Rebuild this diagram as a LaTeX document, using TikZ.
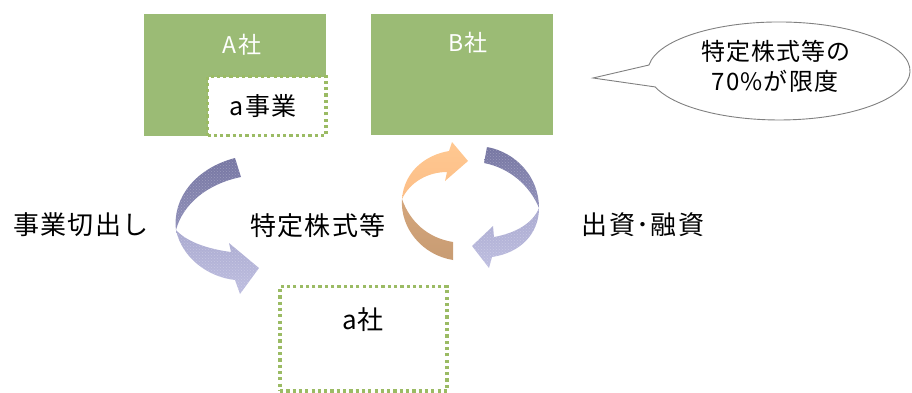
\documentclass[tikz,border=0pt]{standalone}
\usepackage{fontspec}
\usetikzlibrary{patterns}
\setmainfont[LetterSpace=5]{Noto Sans CJK JP}
\definecolor{boxgreen}{RGB}{155,187,117}
\definecolor{dotgreen}{RGB}{155,187,100}
\definecolor{bluedark}{RGB}{118,118,162}
\definecolor{bluemid}{RGB}{145,145,186}
\definecolor{bluelightA}{RGB}{170,170,208}
\definecolor{bluelightB}{RGB}{190,190,224}
\definecolor{orangelight}{RGB}{255,200,145}
\definecolor{orangemid}{RGB}{252,190,135}
\definecolor{tanA}{RGB}{212,166,124}
\definecolor{tanB}{RGB}{200,156,115}
\begin{document}
\begin{tikzpicture}[x=1pt,y=-1pt,
  greenbox/.style={fill=boxgreen, draw=none, inner sep=0pt},
  dotbox/.style={draw=dotgreen, line width=3.2pt, dash pattern=on 3.2pt off 3.1pt, fill=white, inner sep=0pt},
  lbl/.style={font=\fontsize{26}{30}\selectfont, text=black, inner sep=0pt},
  headlbl/.style={font=\fontsize{23}{26}\selectfont, text=white, inner sep=0pt},
  bubtxt/.style={font=\fontsize{24}{28}\selectfont, text=black, inner sep=0pt},
  texture/.style={pattern=crosshatch dots, pattern color=white, fill opacity=0.25}
]
\useasboundingbox (0,0) rectangle (912,392);
% boxes
\node[greenbox, minimum width=182pt, minimum height=122pt] (A) at (235,75) {};
\node[greenbox, minimum width=182pt, minimum height=121pt] (B) at (462,74.5) {};
\node[dotbox, minimum width=118.5pt, minimum height=59pt] (aj) at (266.75,106) {};
\node[dotbox, minimum width=167pt, minimum height=104.5pt] (ac) at (363.5,338.75) {};
% box labels
\node[headlbl] (Al) at (242,45) {A社};
\node[headlbl] (Bl) at (468,43) {B社};
\node[font=\fontsize{25}{28}\selectfont, inner sep=0pt] (ajl) at (263,106) {a事業};
\node[lbl] (acl) at (363,320) {a社};
% side labels
\node[lbl] (l1) at (81,225) {事業切出し};
\node[lbl] (l2) at (318,226) {特定株式等};
\node[lbl] (l3) at (643,225) {出資･融資};
% left curved arrow
\path[shade, top color=bluedark, bottom color=bluemid]
  (235,158) .. controls (196,168) and (172,198) .. (176,230)
  .. controls (183,204) and (207,184) .. (241,177) -- cycle;
\path[texture]
  (235,158) .. controls (196,168) and (172,198) .. (176,230)
  .. controls (183,204) and (207,184) .. (241,177) -- cycle;
\path[shade, top color=bluelightA, bottom color=bluelightB]
  (176,230) .. controls (182,258) and (208,277) .. (235,280)
  -- (240,294) -- (259,268) -- (229,243) -- (231,252)
  .. controls (208,249) and (187,242) .. (176,230) -- cycle;
\path[texture]
  (176,230) .. controls (182,258) and (208,277) .. (235,280)
  -- (240,294) -- (259,268) -- (229,243) -- (231,252)
  .. controls (208,249) and (187,242) .. (176,230) -- cycle;
% orange arrow
\path[shade, top color=orangelight, bottom color=orangemid]
  (402,199) .. controls (404,172) and (425,155) .. (449,151)
  -- (452,142) -- (468,161) -- (445,181) -- (447,172)
  .. controls (428,172) and (410,182) .. (402,199) -- cycle;
\path[shade, top color=tanA, bottom color=tanB]
  (402,199) .. controls (400,228) and (422,255) .. (453,260)
  -- (453,242) .. controls (428,238) and (410,222) .. (402,199) -- cycle;
% right blue arrow
\path[shade, top color=bluedark, bottom color=bluemid]
  (487,147) .. controls (515,152) and (539,176) .. (539,208)
  .. controls (530,186) and (510,168) .. (484,163) -- cycle;
\path[texture]
  (487,147) .. controls (515,152) and (539,176) .. (539,208)
  .. controls (530,186) and (510,168) .. (484,163) -- cycle;
\path[shade, top color=bluelightA, bottom color=bluelightB]
  (539,208) .. controls (539,234) and (520,253) .. (492,257)
  -- (489,268) -- (472,246) -- (493,226) -- (494,237)
  .. controls (516,233) and (533,223) .. (539,208) -- cycle;
\path[texture]
  (539,208) .. controls (539,234) and (520,253) .. (492,257)
  -- (489,268) -- (472,246) -- (493,226) -- (494,237)
  .. controls (516,233) and (533,223) .. (539,208) -- cycle;
% speech bubble
\draw[draw=gray, fill=white, line width=0.9pt]
  (649,65) arc[start angle=187, end angle=521, x radius=131, y radius=49] -- (593,78) -- cycle;
\node[bubtxt] (b1) at (776,51) {特定株式等の};
\node[bubtxt] (b2) at (775,81) {70\%が限度};
\end{tikzpicture}
\end{document}
